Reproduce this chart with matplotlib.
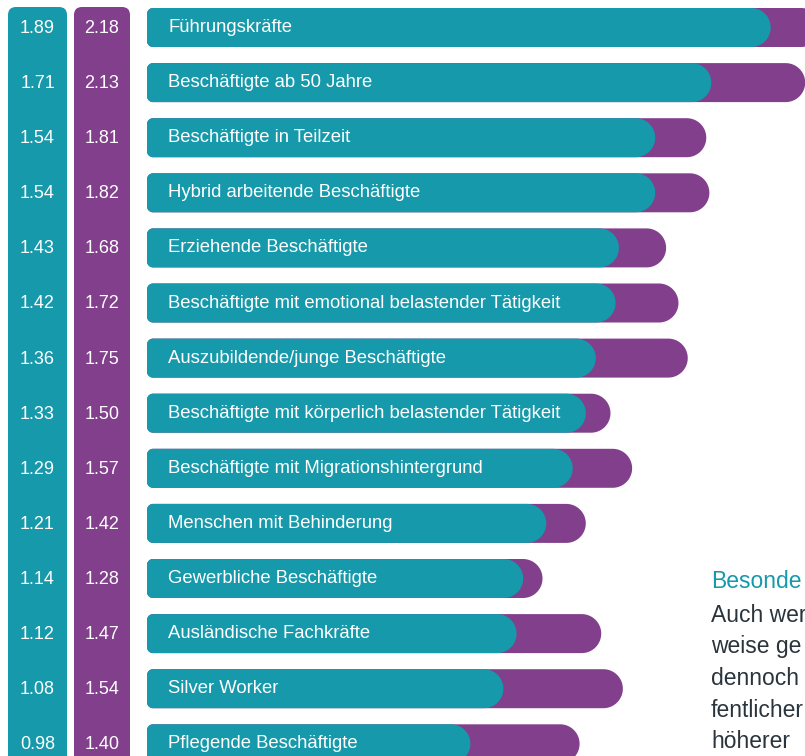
import numpy as np
import matplotlib
matplotlib.use("Agg")
import matplotlib.pyplot as plt
from matplotlib.patches import FancyBboxPatch, Polygon
from matplotlib import transforms

# ---------------- data ----------------
categories = [
    "Führungskräfte",
    "Beschäftigte ab 50 Jahre",
    "Beschäftigte in Teilzeit",
    "Hybrid arbeitende Beschäftigte",
    "Erziehende Beschäftigte",
    "Beschäftigte mit emotional belastender Tätigkeit",
    "Auszubildende/junge Beschäftigte",
    "Beschäftigte mit körperlich belastender Tätigkeit",
    "Beschäftigte mit Migrationshintergrund",
    "Menschen mit Behinderung",
    "Gewerbliche Beschäftigte",
    "Ausländische Fachkräfte",
    "Silver Worker",
    "Pflegende Beschäftigte",
]
teal_values = [1.89, 1.71, 1.54, 1.54, 1.43, 1.42, 1.36, 1.33, 1.29, 1.21, 1.14, 1.12, 1.08, 0.98]
purple_values = [2.18, 2.13, 1.81, 1.82, 1.68, 1.72, 1.75, 1.50, 1.57, 1.42, 1.28, 1.47, 1.54, 1.40]
side_heading = "Besonde"
side_lines = ["Auch wer", "weise ge", "dennoch", "fentlicher", "höherer"]

# ---------------- style ----------------
TEAL = "#1699aa"
PURPLE = "#823f8c"
DARK = "#2a343c"
FONT = ["Liberation Sans", "DejaVu Sans"]
plt.rcParams["font.family"] = FONT

W, H = 805, 756
fig = plt.figure(figsize=(W / 100, H / 100), dpi=100)
fig.patch.set_facecolor("white")

# decoration axes in pixel units
deco = fig.add_axes([0, 0, 1, 1], zorder=0)
deco.set_xlim(0, W)
deco.set_ylim(H, 0)
deco.axis("off")

# data axes: purple series scale
row_px0, row_pitch = 27.5, 55.1
ax = fig.add_axes([0, 0, 1, 1], zorder=1)
ax.patch.set_visible(False)
ax.set_xlim(-147 / 309, (W - 147) / 309)
ax.set_ylim((H - row_px0) / row_pitch, -row_px0 / row_pitch)
ax.axis("off")

# teal series drawn on its own x scale
ax2 = fig.add_axes([0, 0, 1, 1], zorder=2, sharey=ax)
ax2.patch.set_visible(False)
ax2.set_xlim(-147 / 330, (W - 147) / 330)
ax2.axis("off")

# side strips
deco.add_patch(FancyBboxPatch((8, 7), 59, 820, boxstyle="round,pad=0,rounding_size=8",
                              fc=TEAL, ec="none"))
deco.add_patch(FancyBboxPatch((74, 7), 56, 820, boxstyle="round,pad=0,rounding_size=8",
                              fc=PURPLE, ec="none"))

BAR_H = 39 / row_pitch


def rounded_bar(axis, value, yc, color, z, r_left=6.0):
    """Bar from 0 to value: small rounded left corners, semicircular right end."""
    t = axis.transData
    (x0, ytop), = t.transform([(0, yc - BAR_H / 2)])
    (x1, ybot), = t.transform([(value, yc + BAR_H / 2)])
    y_a, y_b = min(ytop, ybot), max(ytop, ybot)
    R = (y_b - y_a) / 2
    ym = (y_a + y_b) / 2
    pts = []
    th = np.linspace(-np.pi / 2, np.pi / 2, 40)
    cx = x1 - R
    pts += list(zip(cx + R * np.cos(th), ym + R * np.sin(th)))
    th = np.linspace(np.pi / 2, np.pi, 12)
    pts += list(zip(x0 + r_left + r_left * np.cos(th), y_b - r_left + r_left * np.sin(th)))
    th = np.linspace(np.pi, 1.5 * np.pi, 12)
    pts += list(zip(x0 + r_left + r_left * np.cos(th), y_a + r_left + r_left * np.sin(th)))
    verts = t.inverted().transform(np.array(pts))
    axis.add_patch(Polygon(verts, closed=True, fc=color, ec="none", zorder=z))


label_tf = transforms.blended_transform_factory(deco.transData, ax.transData)
for i, (cat, tv, pv) in enumerate(zip(categories, teal_values, purple_values)):
    rounded_bar(ax, pv, i, PURPLE, 2)
    rounded_bar(ax2, tv, i, TEAL, 3)
    base = transforms.offset_copy(label_tf, fig=fig, x=0, y=-4.5, units="dots")
    ax2.text(168, i, cat, transform=base, color="white", fontsize=13.3,
             ha="left", va="baseline", zorder=5)
    vbase = transforms.offset_copy(label_tf, fig=fig, x=0, y=-5.5, units="dots")
    deco.text(37.5, i, f"{tv:.2f}", transform=vbase, color="white", fontsize=13,
              ha="center", va="baseline")
    deco.text(102, i, f"{pv:.2f}", transform=vbase, color="white", fontsize=13,
              ha="center", va="baseline")

# side text (starts near the right edge, as in the reference)
deco.text(711, 588, side_heading, color=TEAL, fontsize=16.5, ha="left", va="baseline")
for k, line in enumerate(side_lines):
    deco.text(711, 621.5 + 31.7 * k, line, color=DARK, fontsize=16.5, ha="left",
              va="baseline")

fig.savefig("out.png", dpi=100, facecolor="white")
